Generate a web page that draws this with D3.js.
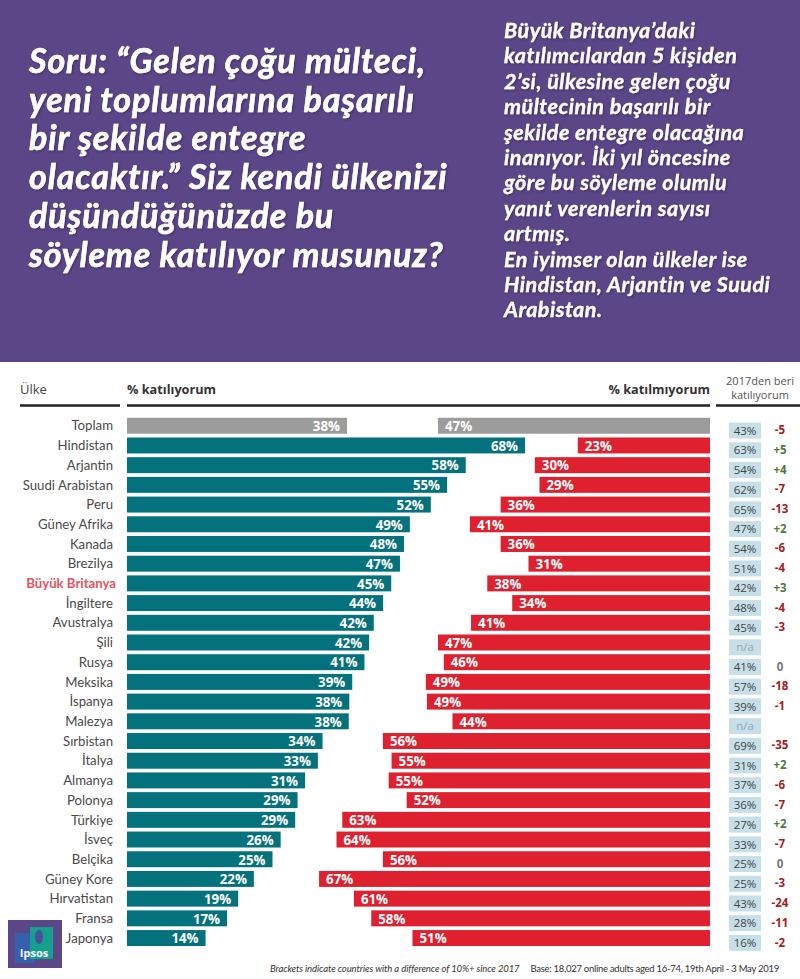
<!DOCTYPE html>
<html>
<head>
<meta charset="utf-8">
<script src="https://cdn.jsdelivr.net/npm/d3@7"></script>
<style>
body { margin: 0; background: #fff; }
svg { display: block; }
text { font-family: "Open Sans", sans-serif; }
</style>
</head>
<body>
<script>
//Width and height
var w = 800;
var h = 979;

//Data
var countries = ["Toplam","Hindistan","Arjantin","Suudi Arabistan","Peru","Güney Afrika","Kanada","Brezilya","Büyük Britanya","İngiltere","Avustralya","Şili","Rusya","Meksika","İspanya","Malezya","Sırbistan","İtalya","Almanya","Polonya","Türkiye","İsveç","Belçika","Güney Kore","Hırvatistan","Fransa","Japonya"];
var agree = [37.8,68.4,58.2,55,52.2,48.6,47.6,46.9,45.4,44,42.4,41.6,40.8,38.7,38.2,38.1,33.6,32.8,30.6,29.3,28.9,26.4,25,21.8,19.1,17.2,13.5];
var disagree = [46.9,22.8,30.2,29.4,36.1,41.4,36.1,31.3,38.4,34.1,41.2,46.9,45.9,49,48.8,44.4,56.4,54.9,55.4,52.3,63.4,64.4,56.4,67.4,61.4,58.4,51.3];
var agree2017 = ["43%","63%","54%","62%","65%","47%","54%","51%","42%","48%","45%","n/a","41%","57%","39%","n/a","69%","31%","37%","36%","27%","33%","25%","25%","43%","28%","16%"];
var change = ["-5","+5","+4","-7","-13","+2","-6","-4","+3","-4","-3","","0","-18","-1","","-35","+2","-6","-7","+2","-7","0","-3","-24","-11","-2"];

var questionLines = ["Soru: “Gelen çoğu mülteci,","yeni toplumlarına başarılı","bir şekilde entegre","olacaktır.” Siz kendi ülkenizi","düşündüğünüzde bu","söyleme katılıyor musunuz?"];
var noteLines = ["Büyük Britanya’daki","katılımcılardan 5 kişiden","2’si, ülkesine gelen çoğu","mültecinin başarılı bir","şekilde entegre olacağına","inanıyor. İki yıl öncesine","göre bu söyleme olumlu","yanıt verenlerin sayısı","artmış.","En iyimser olan ülkeler ise","Hindistan, Arjantin ve Suudi","Arabistan."];

var purple = "#5b4688";

//Scales: agree grows from the left, disagree from the right
var xAgree = d3.scaleLinear().domain([0, 100]).range([127, 709]);
var xDisagree = d3.scaleLinear().domain([0, 100]).range([710, 130]);
var y = d3.scaleBand().domain(countries).range([415.9, 947.9]).paddingInner(0.19).paddingOuter(0.095);

var svg = d3.select("body")
	.append("svg")
	.attr("width", w)
	.attr("height", h);

var defs = svg.append("defs");
var shadow = defs.append("filter").attr("id", "soft");
shadow.append("feDropShadow")
	.attr("dx", 1).attr("dy", 1).attr("stdDeviation", 0.8)
	.attr("flood-color", "#2a1f48").attr("flood-opacity", 0.6);

//Purple header band
svg.append("rect").attr("width", w).attr("height", 362).attr("fill", purple);

svg.append("g").attr("filter", "url(#soft)")
	.selectAll("text")
	.data(questionLines)
	.enter()
	.append("text")
	.attr("x", 29)
	.attr("y", function(d, i) { return 73 + i * 38.7; })
	.attr("fill", "#fff")
	.attr("stroke", "#fff")
	.attr("stroke-width", 0.6)
	.style("font-family", "Lato")
	.style("font-weight", 700)
	.style("font-style", "italic")
	.style("font-size", "34px")
	.style("letter-spacing", "0.9px")
	.text(function(d) { return d; });

svg.append("g").attr("filter", "url(#soft)")
	.selectAll("text")
	.data(noteLines)
	.enter()
	.append("text")
	.attr("x", 504)
	.attr("y", function(d, i) { return 38 + i * 25.4; })
	.attr("fill", "#fff")
	.attr("stroke", "#fff")
	.attr("stroke-width", 0.3)
	.style("font-family", "Lato")
	.style("font-weight", 700)
	.style("font-style", "italic")
	.style("font-size", "21.5px")
	.style("letter-spacing", "0.5px")
	.text(function(d) { return d; });

//Table header
svg.append("text").attr("x", 20).attr("y", 394).attr("fill", "#444").style("font-size", "13px").text("Ülke");
svg.append("text").attr("x", 127).attr("y", 394).attr("fill", "#333").style("font-size", "12.7px").style("font-weight", 700).text("% katılıyorum");
svg.append("text").attr("x", 710).attr("y", 394).attr("text-anchor", "end").attr("fill", "#333").style("font-size", "12.7px").style("font-weight", 700).text("% katılmıyorum");
svg.append("text").attr("x", 760).attr("y", 385).attr("text-anchor", "middle").attr("fill", "#555").style("font-size", "11px").text("2017den beri");
svg.append("text").attr("x", 760).attr("y", 399).attr("text-anchor", "middle").attr("fill", "#555").style("font-size", "11px").text("katılıyorum");

svg.selectAll("line.rule")
	.data([[20, 120], [127, 710], [716, 800]])
	.enter()
	.append("line")
	.attr("class", "rule")
	.attr("x1", function(d) { return d[0]; })
	.attr("x2", function(d) { return d[1]; })
	.attr("y1", 405.5)
	.attr("y2", 405.5)
	.attr("stroke", "#222")
	.attr("stroke-width", 2.5);

//One group per row
var rows = svg.selectAll("g.row")
	.data(countries)
	.enter()
	.append("g")
	.attr("class", "row")
	.attr("transform", function(d) { return "translate(0," + y(d) + ")"; });

var bh = y.bandwidth();

rows.append("text")
	.attr("x", function(d) { return d == "Büyük Britanya" ? 116 : 113; })
	.attr("y", bh / 2 + 4.7)
	.attr("text-anchor", "end")
	.attr("fill", function(d) { return d == "Büyük Britanya" ? "#e8525c" : "#4a4a4a"; })
	.style("font-family", "Lato")
	.style("font-size", "13.2px")
	.style("font-weight", function(d) { return d == "Büyük Britanya" ? 700 : 400; })
	.text(function(d) { return d; });

//Agree bars
rows.append("rect")
	.attr("x", xAgree(0))
	.attr("width", function(d, i) { return xAgree(agree[i]) - xAgree(0); })
	.attr("height", bh)
	.attr("fill", function(d, i) { return i == 0 ? "#9c9c9c" : "#04727c"; });

rows.append("text")
	.attr("x", function(d, i) { return xAgree(agree[i]) - 7; })
	.attr("y", bh / 2 + 5.3)
	.attr("text-anchor", "end")
	.attr("fill", "#fff")
	.style("font-size", "13.3px")
	.style("font-weight", 700)
	.text(function(d, i) { return Math.round(agree[i]) + "%"; });

//Disagree bars
rows.append("rect")
	.attr("x", function(d, i) { return xDisagree(disagree[i]); })
	.attr("width", function(d, i) { return xDisagree(0) - xDisagree(disagree[i]); })
	.attr("height", bh)
	.attr("fill", function(d, i) { return i == 0 ? "#9c9c9c" : "#df202e"; });

rows.append("text")
	.attr("x", function(d, i) { return xDisagree(disagree[i]) + 7; })
	.attr("y", bh / 2 + 5.3)
	.attr("fill", "#fff")
	.style("font-size", "13.3px")
	.style("font-weight", 700)
	.text(function(d, i) { return Math.round(disagree[i]) + "%"; });

//2017 chips
rows.append("rect")
	.attr("x", 729)
	.attr("y", 4.8)
	.attr("width", 32)
	.attr("height", bh)
	.attr("fill", "#c6dfe8");

rows.append("text")
	.attr("x", 745)
	.attr("y", bh / 2 + 9)
	.attr("text-anchor", "middle")
	.attr("fill", function(d, i) { return agree2017[i] == "n/a" ? "#93a8b2" : "#444"; })
	.style("font-size", "11.5px")
	.text(function(d, i) { return agree2017[i]; });

//Change since 2017
rows.append("text")
	.attr("x", 780)
	.attr("y", bh / 2 + 8.5)
	.attr("text-anchor", "middle")
	.attr("fill", function(d, i) {
		if (change[i] == "0") return "#777";
		return change[i][0] == "+" ? "#4f7a3a" : "#a51d24";
	})
	.style("font-size", "11.5px")
	.style("font-weight", 700)
	.text(function(d, i) { return change[i]; });

//Ipsos logo
var logo = svg.append("g");
logo.append("rect").attr("x", 8).attr("y", 920).attr("width", 54).attr("height", 48).attr("fill", purple);
logo.append("rect").attr("x", 15).attr("y", 933).attr("width", 20).attr("height", 30).attr("fill", "#3560ae");
logo.append("rect").attr("x", 30).attr("y", 927).attr("width", 23).attr("height", 32).attr("fill", "#14a08f");
logo.append("ellipse").attr("cx", 39).attr("cy", 937).attr("rx", 4).attr("ry", 7).attr("fill", "#4a4f9a");
logo.append("text").attr("x", 34).attr("y", 957).attr("text-anchor", "middle").attr("fill", "#fff")
	.style("font-size", "11px").style("font-weight", 700).text("Ipsos");

//Footer notes
svg.append("text").attr("x", 270).attr("y", 972).attr("fill", "#333")
	.style("font-family", "Lato")
	.style("font-size", "9.5px").style("font-style", "italic")
	.style("letter-spacing", "-0.1px")
	.text("Brackets indicate countries with a difference of 10%+ since 2017");
svg.append("text").attr("x", 530.5).attr("y", 972).attr("fill", "#333")
	.style("font-family", "Lato")
	.style("font-size", "9.5px")
	.style("letter-spacing", "-0.27px")
	.text("Base: 18,027 online adults aged 16-74, 19th April - 3 May 2019");
</script>
</body>
</html>
